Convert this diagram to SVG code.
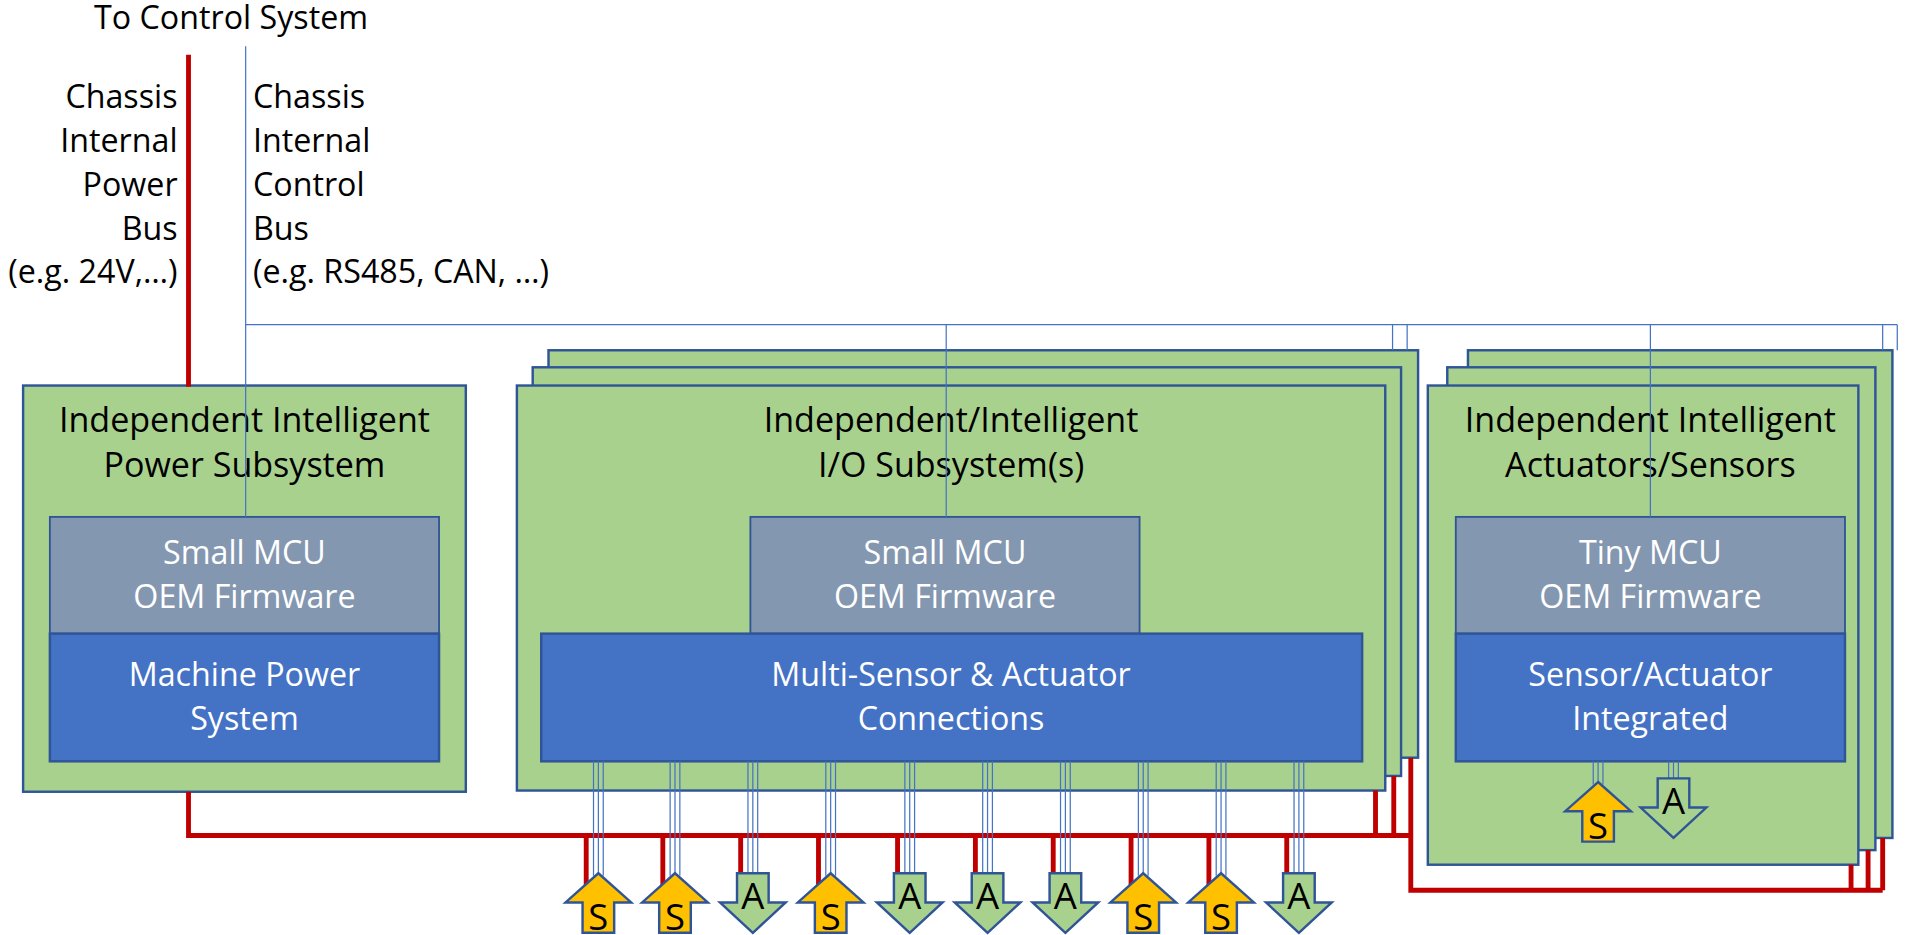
<svg xmlns="http://www.w3.org/2000/svg" width="1907" height="935" viewBox="0 0 1907 935">
<defs>
<style>
text{font-family:"Open Sans","Noto Sans","DejaVu Sans",sans-serif;}
.lbl{font-size:26.5px;fill:#000;}
.t{font-size:28px;fill:#000;text-anchor:middle;}
.w{font-size:26.5px;fill:#fff;text-anchor:middle;}
.g{fill:#A9D18E;stroke:#2F5597;stroke-width:2;}
.m{fill:#8497B0;stroke:#2F5597;stroke-width:1.5;}
.b{fill:#4472C4;stroke:#2F5597;stroke-width:2;}
.c{stroke:#4472C4;stroke-width:1;fill:none;}
.p{stroke:#C00000;stroke-width:4;fill:none;}
.s{fill:#FFC000;stroke:#2F5597;stroke-width:2;}
.a{fill:#A9D18E;stroke:#2F5597;stroke-width:2;}
.al{font-size:30px;fill:#000;text-anchor:middle;}
</style>
<g id="sArrow"><polygon class="s" points="0,0 27,24 13,24 13,49 -13,49 -13,24 -27,24"/><text class="al" x="0" y="47">S</text></g>
<g id="aArrow"><polygon class="a" points="-13,0 13,0 13,24 27,24 0,49 -27,24 -13,24"/><text class="al" x="0" y="29">A</text></g>
</defs>
<rect width="1907" height="935" fill="#fff"/>
<g transform="scale(1.2162)">
<text class="lbl" x="190" y="24" text-anchor="middle">To Control System</text>
<g id="labels">
<text class="lbl" text-anchor="end"><tspan x="146" y="89">Chassis</tspan><tspan x="146" y="125">Internal</tspan><tspan x="146" y="161">Power</tspan><tspan x="146" y="197">Bus</tspan><tspan x="146" y="233">(e.g. 24V,…)</tspan></text>
<text class="lbl"><tspan x="208" y="89">Chassis</tspan><tspan x="208" y="125">Internal</tspan><tspan x="208" y="161">Control</tspan><tspan x="208" y="197">Bus</tspan><tspan x="208" y="233">(e.g. RS485, CAN, …)</tspan></text>
</g>
<g id="io-stack-back"><rect class="g" x="451" y="288" width="715" height="335"/><rect class="g" x="438" y="302" width="714" height="336"/></g>
<g id="act-stack-back"><rect class="g" x="1207" y="288" width="349" height="401"/><rect class="g" x="1190" y="302" width="352" height="397"/></g>
<g id="power">
<rect class="g" x="19" y="317" width="364" height="334"/>
<text class="t" x="201" y="355">Independent Intelligent</text><text class="t" x="201" y="392">Power Subsystem</text>
<rect class="m" x="41" y="425" width="320" height="96"/>
<text class="w" x="201" y="464">Small MCU</text><text class="w" x="201" y="500">OEM Firmware</text>
<rect class="b" x="41" y="521" width="320" height="105"/>
<text class="w" x="201" y="564">Machine Power</text><text class="w" x="201" y="600">System</text>
</g>
<g id="io">
<rect class="g" x="425" y="317" width="714" height="333"/>
<text class="t" x="782" y="355">Independent/Intelligent</text><text class="t" x="782" y="392">I/O Subsystem(s)</text>
<rect class="m" x="617" y="425" width="320" height="96"/>
<text class="w" x="777" y="464">Small MCU</text><text class="w" x="777" y="500">OEM Firmware</text>
<rect class="b" x="445" y="521" width="675" height="105"/>
<text class="w" x="782" y="564">Multi-Sensor &amp; Actuator</text><text class="w" x="782" y="600">Connections</text>
</g>
<g id="act">
<rect class="g" x="1174" y="317" width="354" height="394"/>
<text class="t" x="1357" y="355">Independent Intelligent</text><text class="t" x="1357" y="392">Actuators/Sensors</text>
<rect class="m" x="1197" y="425" width="320" height="96"/>
<text class="w" x="1357" y="464">Tiny MCU</text><text class="w" x="1357" y="500">OEM Firmware</text>
<rect class="b" x="1197" y="521" width="320" height="105"/>
<text class="w" x="1357" y="564">Sensor/Actuator</text><text class="w" x="1357" y="600">Integrated</text>
</g>
<g id="connectors">
<path class="p" d="M155,45 V318 M155,651 V687 H1160 V732 H1548 M1131,650 V687 M1146,638 V687 M1160,623 V687 M1522,711 V732 M1536,699 V732 M1548,689 V732"/>
<path class="c" d="M202,38 V425 M202,267 H1560 M778,267 V425 M1145,267 V288 M1157,267 V288 M1357,267 V425 M1548,267 V288 M1560,267 V288"/>
<g id="drops">
<path class="p" d="M482,687 V735 M545,687 V735 M609,687 V735 M673,687 V735 M738,687 V735 M802,687 V735 M866,687 V735 M930,687 V735 M994,687 V735 M1058,687 V735"/>
<path class="c" d="M488,626 V720 M492,626 V720 M496,626 V720 M551,626 V720 M555,626 V720 M559,626 V720 M615,626 V720 M619,626 V720 M623,626 V720 M679,626 V720 M683,626 V720 M687,626 V720 M744,626 V720 M748,626 V720 M752,626 V720 M808,626 V720 M812,626 V720 M816,626 V720 M872,626 V720 M876,626 V720 M880,626 V720 M936,626 V720 M940,626 V720 M944,626 V720 M1000,626 V720 M1004,626 V720 M1008,626 V720 M1064,626 V720 M1068,626 V720 M1072,626 V720 M1310,626 V645 M1314,626 V645 M1318,626 V645 M1372,626 V640 M1376,626 V640 M1380,626 V640"/>
</g>
</g>
<g id="arrows">
<use href="#sArrow" x="492" y="718"/><use href="#sArrow" x="555" y="718"/><use href="#aArrow" x="619" y="718"/><use href="#sArrow" x="683" y="718"/><use href="#aArrow" x="748" y="718"/><use href="#aArrow" x="812" y="718"/><use href="#aArrow" x="876" y="718"/><use href="#sArrow" x="940" y="718"/><use href="#sArrow" x="1004" y="718"/><use href="#aArrow" x="1068" y="718"/>
<use href="#sArrow" x="1314" y="643"/><use href="#aArrow" x="1376" y="640"/>
</g>
</g>
</svg>
